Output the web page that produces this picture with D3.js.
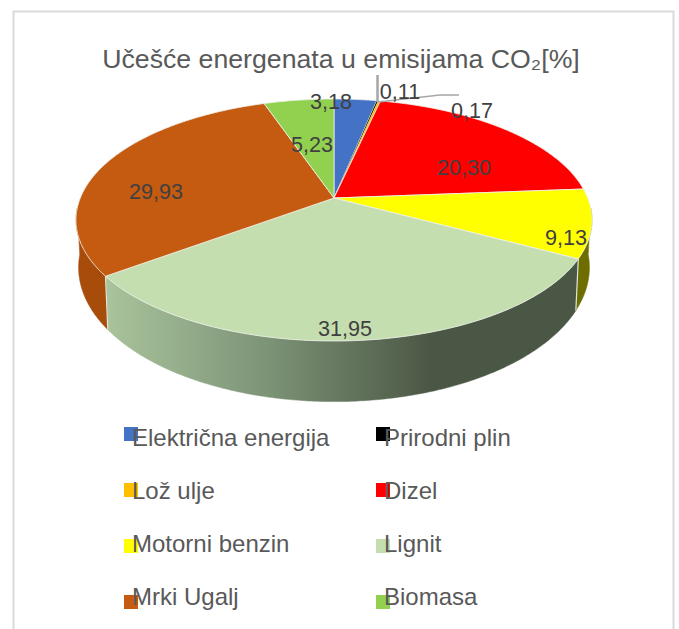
<!DOCTYPE html>
<html><head><meta charset="utf-8">
<script src="https://cdn.jsdelivr.net/npm/d3@7/dist/d3.min.js"></script>
<style>html,body{margin:0;padding:0;background:#fff}svg{display:block}text{font-family:"Liberation Sans",Arial,sans-serif}</style>
</head><body><svg id="c" width="679" height="629"></svg>
<script>
const categories = ["Električna energija","Prirodni plin","Lož ulje","Dizel","Motorni benzin","Lignit","Mrki Ugalj","Biomasa"];
const values = [3.18,0.11,0.17,20.30,9.13,31.95,29.93,5.23];
const valueLabels = ["3,18","0,11","0,17","20,30","9,13","31,95","29,93","5,23"];
const colors = ["#4472c4","#000000","#ffc000","#ff0000","#ffff00","#c5deb0","#c55a11","#92d050"];
const sideColors = ["#2a4a80","#000000","#8a6a00","#8a0000","#6e6e00","url(#lig)","#a84c0c","#5a8030"];
const titleText = "Učešće energenata u emisijama CO₂[%]";

// layout
const cx=334, cy=198, A=253.7, B=117, e=0.1818;
const labelPos = [[331,101],[400,91],[472,110],[464,167],[566,237],[345,328],[156,191],[312,144]];
const legendCols=[124,376], legendRows=[427,483,539,595], legendBase=[446,499,552,605];

const svg=d3.select("#c");
const defs=svg.append("defs");
const g=defs.append("linearGradient").attr("id","lig").attr("gradientUnits","userSpaceOnUse")
  .attr("x1",107).attr("x2",430).attr("y1",0).attr("y2",0);
g.append("stop").attr("offset",0).attr("stop-color","#a9c39c");
g.append("stop").attr("offset",0.5).attr("stop-color","#7c9376");
g.append("stop").attr("offset",1).attr("stop-color","#4b5745");

// frame
svg.append("path").attr("d","M13.5,629V11.5H673.5V629").attr("fill","none").attr("stroke","#d9d9d9").attr("stroke-width",2);

// title
svg.append("text").attr("x",341).attr("y",68).attr("text-anchor","middle").attr("font-size",26.7).attr("fill","#595959").text(titleText);

const color=d3.scaleOrdinal().domain(categories).range(colors);
const side=d3.scaleOrdinal().domain(categories).range(sideColors);
const pie=d3.pie().sort(null).value(d=>d.v).startAngle(0).endAngle(2*Math.PI);
const arcs=pie(categories.map((c,i)=>({c,v:values[i]})));

const topPt=a=>{const u=Math.sin(a),v=-Math.cos(a),d=1-e*v;return [cx+A*u/d,cy+B*v/d];};
const botPt=a=>{const p=topPt(a);return [cx+(p[0]-cx)*0.99,cy+45+(p[1]-cy)*1.109];};
const line=d3.line();
const samples=(a0,a1)=>{const n=Math.max(2,Math.ceil(Math.abs(a1-a0)/0.01));return d3.range(n+1).map(i=>a0+(a1-a0)*i/n);};

// side wall, visible between the two silhouette tangents
const visLo=95*Math.PI/180, visHi=265*Math.PI/180;
const sideG=svg.append("g");
arcs.forEach(d=>{
  const a0=Math.max(d.startAngle,visLo), a1=Math.min(d.endAngle,visHi);
  if(a1<=a0) return;
  const s=samples(a0,a1);
  sideG.append("path").attr("d",line(s.map(topPt).concat(s.slice().reverse().map(botPt)))+"Z")
    .attr("fill",side(d.data.c)).attr("stroke",side(d.data.c)).attr("stroke-width",0.5);
});
// pale seams between wall faces
arcs.forEach(d=>{
  if(d.endAngle>visLo && d.endAngle<visHi){
    sideG.append("path").attr("d",line([topPt(d.endAngle),botPt(d.endAngle)]))
      .attr("stroke","#dfe6da").attr("stroke-width",1.2).attr("fill","none");
  }
});

// top face
const topG=svg.append("g");
arcs.forEach(d=>{
  const s=samples(d.startAngle,d.endAngle);
  topG.append("path").attr("d",line([[cx,cy]].concat(s.map(topPt)))+"Z")
    .attr("fill",color(d.data.c)).attr("stroke","#eef1ea").attr("stroke-width",d.data.v<1?0.2:0.8).attr("stroke-linejoin","round");
});

// leader lines
const lead=svg.append("g").attr("fill","none").attr("stroke","#a6a6a6");
lead.append("path").attr("d",line([[377.5,75],[377.5,102]])).attr("stroke-width",2.5);
lead.append("path").attr("d",line([[378,102],[440,95],[459,95]])).attr("stroke-width",1.4);

// value labels
svg.append("g").selectAll("text").data(valueLabels).join("text")
  .attr("x",(d,i)=>labelPos[i][0]).attr("y",(d,i)=>labelPos[i][1]+7.5)
  .attr("text-anchor","middle").attr("font-size",21.6).attr("fill","#404040").text(d=>d);

// legend
const lg=svg.append("g");
categories.forEach((c,i)=>{
  const x=legendCols[i%2], r=Math.floor(i/2);
  lg.append("rect").attr("x",x).attr("y",legendRows[r]).attr("width",14).attr("height",14).attr("fill",color(c));
  lg.append("text").attr("x",x+8).attr("y",legendBase[r]).attr("font-size",24).attr("fill","#595959").text(c);
});
</script></body></html>
